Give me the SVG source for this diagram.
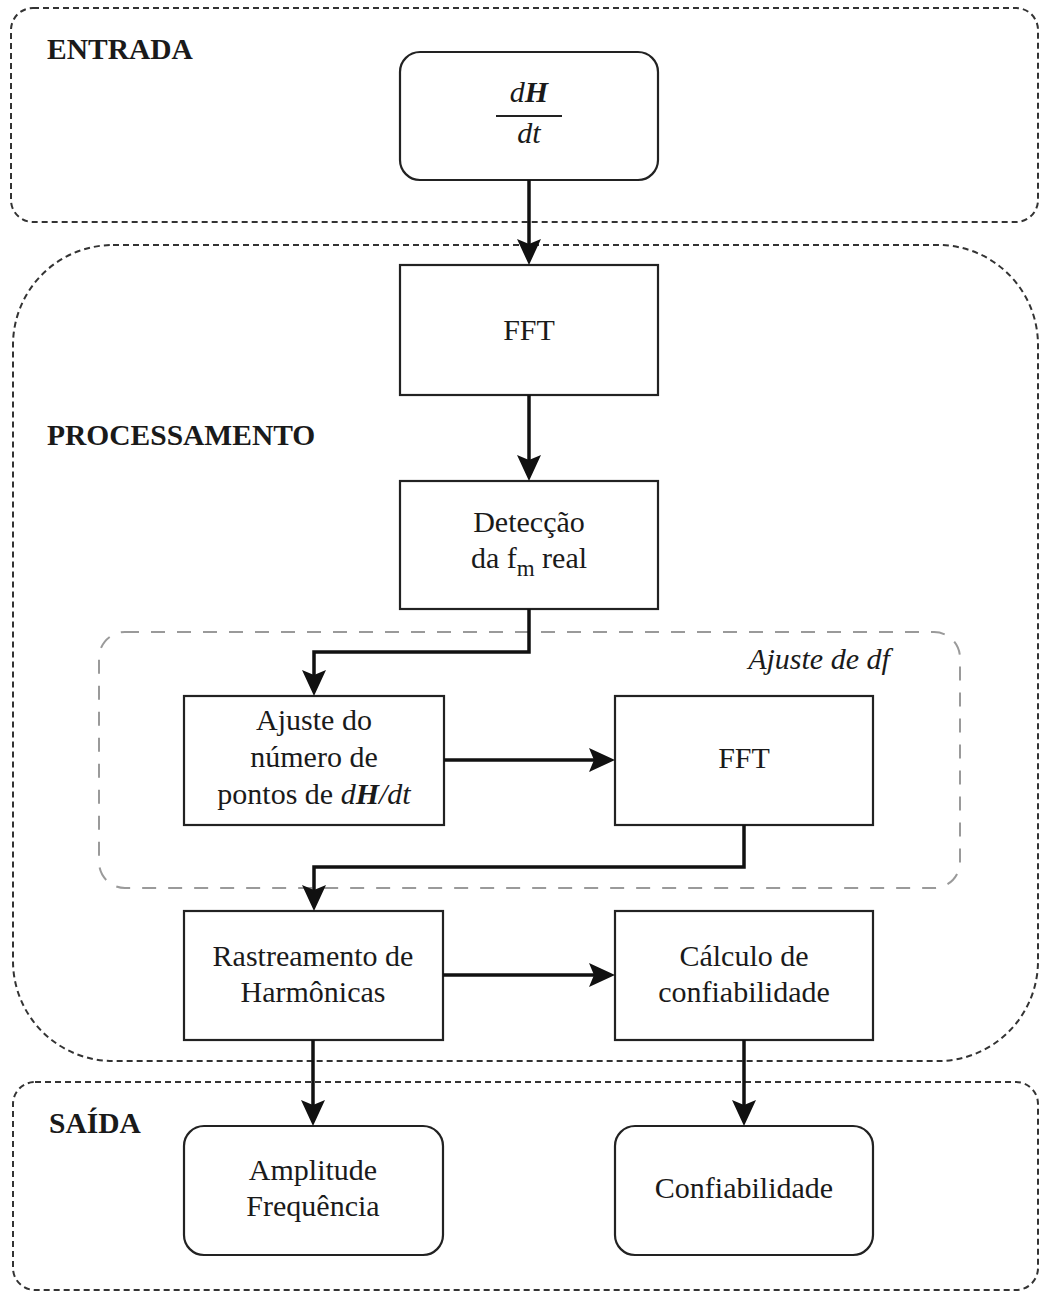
<svg xmlns="http://www.w3.org/2000/svg" width="1039" height="1292" viewBox="0 0 1039 1292">
  <style>
    .zone { fill: none; stroke: #333; stroke-width: 2; stroke-dasharray: 6 4; }
    .inner { fill: none; stroke: #9a9a9a; stroke-width: 2; stroke-dasharray: 14 12; }
    .box { fill: #fff; stroke: #222; stroke-width: 2.2; }
    .lbl { font-family: "Liberation Serif", "Times New Roman", serif; font-size: 30px; fill: #1a1a1a; text-anchor: middle; }
    .zlbl { font-family: "Liberation Serif", "Times New Roman", serif; font-size: 29.5px; font-weight: bold; fill: #1a1a1a; }
    .it { font-style: italic; }
    .bi { font-style: italic; font-weight: bold; }
    .wire { fill: none; stroke: #111; stroke-width: 3.5; }
  </style>
  <defs>
    <marker id="arrow" viewBox="0 0 26 24" markerWidth="26" markerHeight="24" refX="18" refY="12" orient="auto" markerUnits="userSpaceOnUse">
      <path d="M0,0 L26,12 L0,24 L5,12 Z" fill="#111"/>
    </marker>
  </defs>
  <rect width="1039" height="1292" fill="#fff"/>

  <!-- stage regions -->
  <g id="zone-entrada">
    <rect class="zone" x="11" y="8" width="1027" height="214" rx="22"/>
    <text class="zlbl" x="47" y="59">ENTRADA</text>
  </g>
  <g id="zone-processamento">
    <rect class="zone" x="13" y="245" width="1025" height="816" rx="100"/>
    <text class="zlbl" x="47" y="445">PROCESSAMENTO</text>
  </g>
  <g id="zone-saida">
    <rect class="zone" x="13" y="1082" width="1025" height="208" rx="22"/>
    <text class="zlbl" x="49" y="1133">SAÍDA</text>
  </g>
  <g id="zone-ajuste-df">
    <rect class="inner" x="99" y="632" width="861" height="256" rx="26"/>
    <text class="lbl it" x="819" y="669">Ajuste de df</text>
  </g>

  <!-- process nodes -->
  <g id="node-dhdt">
    <rect class="box" x="400" y="52" width="258" height="128" rx="20"/>
    <text class="lbl" x="529" y="102"><tspan class="it">d</tspan><tspan class="bi">H</tspan></text>
    <line x1="496" y1="116" x2="562" y2="116" stroke="#222" stroke-width="2"/>
    <text class="lbl it" x="529" y="143">dt</text>
  </g>
  <g id="node-fft1">
    <rect class="box" x="400" y="265" width="258" height="130"/>
    <text class="lbl" x="529" y="340">FFT</text>
  </g>
  <g id="node-deteccao">
    <rect class="box" x="400" y="481" width="258" height="128"/>
    <text class="lbl" x="529" y="532">Detecção</text>
    <text class="lbl" x="529" y="568">da f<tspan font-size="23" dy="8">m</tspan><tspan dy="-8"> real</tspan></text>
  </g>
  <g id="node-ajuste">
    <rect class="box" x="184" y="696" width="260" height="129"/>
    <text class="lbl" x="314" y="730">Ajuste do</text>
    <text class="lbl" x="314" y="767">número de</text>
    <text class="lbl" x="314" y="804">pontos de <tspan class="it">d</tspan><tspan class="bi">H</tspan><tspan class="it">/dt</tspan></text>
  </g>
  <g id="node-fft2">
    <rect class="box" x="615" y="696" width="258" height="129"/>
    <text class="lbl" x="744" y="768">FFT</text>
  </g>
  <g id="node-rastreamento">
    <rect class="box" x="184" y="911" width="259" height="129"/>
    <text class="lbl" x="313" y="966">Rastreamento de</text>
    <text class="lbl" x="313" y="1002">Harmônicas</text>
  </g>
  <g id="node-calculo">
    <rect class="box" x="615" y="911" width="258" height="129"/>
    <text class="lbl" x="744" y="966">Cálculo de</text>
    <text class="lbl" x="744" y="1002">confiabilidade</text>
  </g>
  <g id="node-amplitude">
    <rect class="box" x="184" y="1126" width="259" height="129" rx="20"/>
    <text class="lbl" x="313" y="1180">Amplitude</text>
    <text class="lbl" x="313" y="1216">Frequência</text>
  </g>
  <g id="node-confiabilidade">
    <rect class="box" x="615" y="1126" width="258" height="129" rx="20"/>
    <text class="lbl" x="744" y="1198">Confiabilidade</text>
  </g>

  <!-- connectors -->
  <g id="connectors">
    <path class="wire" d="M529,180 L529,257" marker-end="url(#arrow)"/>
    <path class="wire" d="M529,395 L529,473" marker-end="url(#arrow)"/>
    <path class="wire" d="M529,609 L529,652 L314,652 L314,688" marker-end="url(#arrow)"/>
    <path class="wire" d="M444,760 L607,760" marker-end="url(#arrow)"/>
    <path class="wire" d="M744,825 L744,867 L314,867 L314,903" marker-end="url(#arrow)"/>
    <path class="wire" d="M443,975 L607,975" marker-end="url(#arrow)"/>
    <path class="wire" d="M313,1040 L313,1118" marker-end="url(#arrow)"/>
    <path class="wire" d="M744,1040 L744,1118" marker-end="url(#arrow)"/>
  </g>
</svg>
